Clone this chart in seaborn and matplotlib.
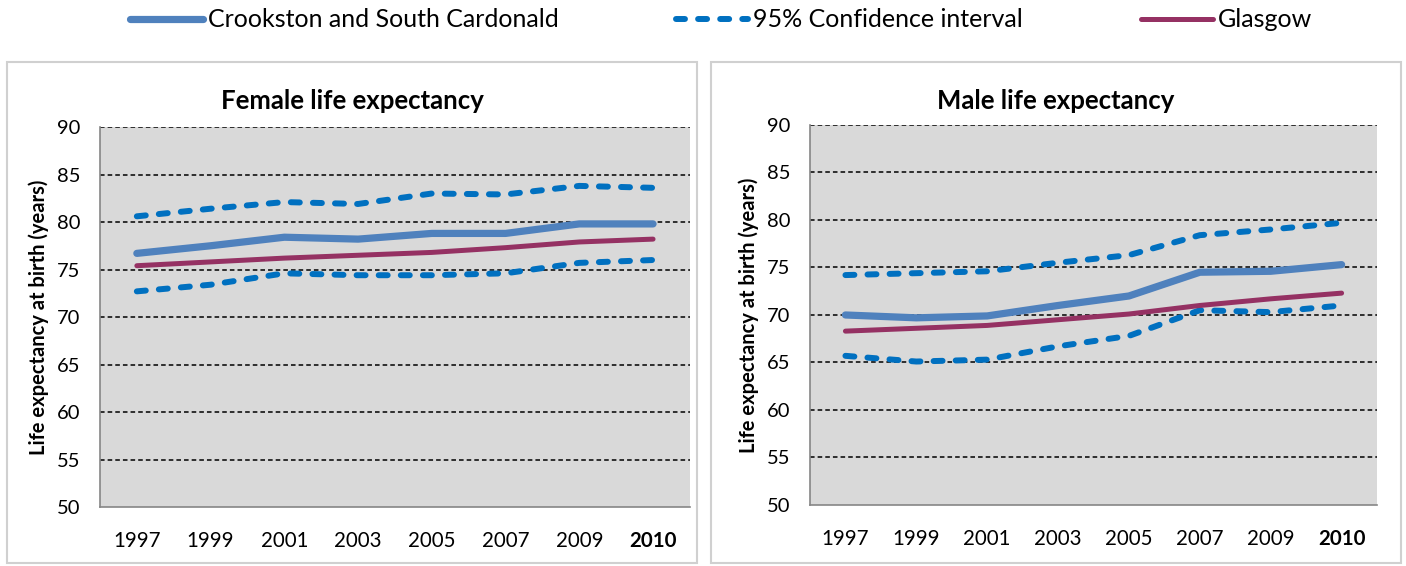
import matplotlib
matplotlib.use("Agg")
import matplotlib.pyplot as plt
import seaborn as sns
import pandas as pd
from matplotlib.patches import Rectangle
from matplotlib.lines import Line2D

years = ["1997", "1999", "2001", "2003", "2005", "2007", "2009", "2010"]

# female
female_area = [76.7, 77.5, 78.4, 78.2, 78.8, 78.8, 79.8, 79.8]
female_upper = [80.6, 81.4, 82.1, 81.9, 83.0, 82.9, 83.8, 83.6]
female_lower = [72.7, 73.4, 74.6, 74.4, 74.4, 74.6, 75.7, 76.0]
female_glasgow = [75.4, 75.8, 76.2, 76.5, 76.8, 77.3, 77.9, 78.2]

# male
male_area = [70.0, 69.7, 69.9, 71.0, 72.0, 74.5, 74.6, 75.3]
male_upper = [74.2, 74.4, 74.6, 75.5, 76.3, 78.4, 79.0, 79.7]
male_lower = [65.7, 65.1, 65.3, 66.7, 67.8, 70.5, 70.3, 71.0]
male_glasgow = [68.3, 68.6, 68.9, 69.5, 70.1, 71.0, 71.7, 72.3]

area_color = "#4F81BD"
ci_color = "#0070C0"
glasgow_color = "#953163"

area_lw = 5.2
ci_lw = 4.3
glasgow_lw = 3.6
ci_dash = (0, (1.5, 2.2))

sns.set_style("white")
plt.rcParams["font.family"] = ["Lato", "DejaVu Sans"]
plt.rcParams["text.color"] = "black"
plt.rcParams["xtick.color"] = "black"
plt.rcParams["ytick.color"] = "black"
plt.rcParams["axes.labelcolor"] = "black"

fig = plt.figure(figsize=(14.06, 5.66), dpi=100)

# panel frames
for x0 in [0.005, 0.5057]:
    fig.patches.append(Rectangle((x0, 0.006), 0.4908, 0.884, transform=fig.transFigure,
                                 facecolor="none", edgecolor="#D0D0D0", linewidth=1.5, zorder=-1))

ax1 = fig.add_axes([0.0711, 0.1042, 0.4196, 0.6714])
ax2 = fig.add_axes([0.5761, 0.1078, 0.4033, 0.6714])


def draw_panel(ax, area, upper, lower, glasgow, title, title_x):
    df = pd.DataFrame({"pos": range(len(years)), "area": area, "upper": upper,
                       "lower": lower, "glasgow": glasgow})
    ax.set_facecolor("#D9D9D9")
    for v in range(55, 95, 5):
        ax.axhline(v, color="black", linestyle=(0, (3, 2)), linewidth=1.1, zorder=1)
    sns.lineplot(data=df, x="pos", y="glasgow", ax=ax, color=glasgow_color, linewidth=glasgow_lw,
                 zorder=3, solid_capstyle="round")
    sns.lineplot(data=df, x="pos", y="area", ax=ax, color=area_color, linewidth=area_lw, zorder=4,
                 solid_capstyle="round")
    for col in ["upper", "lower"]:
        sns.lineplot(data=df, x="pos", y=col, ax=ax, color=ci_color, linewidth=ci_lw, zorder=2,
                     linestyle=ci_dash, dash_capstyle="round")
    ax.set_xlim(-0.5, len(years) - 0.5)
    ax.set_ylim(50, 90)
    ax.set_yticks(range(50, 95, 5))
    # category boundaries as major ticks, labels at centers
    ax.set_xticks([i - 0.5 for i in range(len(years) + 1)])
    ax.set_xticklabels([])
    ax.set_xticks(range(len(years)), minor=True)
    ax.set_xticklabels(years, minor=True)
    ax.tick_params(axis="x", which="major", length=5, color="#868686", width=1.2, direction="out")
    ax.tick_params(axis="x", which="minor", length=0, pad=17, labelsize=14.8)
    ax.tick_params(axis="y", length=8, color="#868686", width=1.2, labelsize=14.5, pad=6, direction="out")
    ax.get_xticklabels(minor=True)[-1].set_fontweight("bold")
    for s in ["top", "right"]:
        ax.spines[s].set_visible(False)
    for s in ["left", "bottom"]:
        ax.spines[s].set_color("#868686")
        ax.spines[s].set_linewidth(1.2)
    ax.set_xlabel("")
    ax.set_ylabel("Life expectancy at birth (years)", fontsize=14.5, fontweight="bold", labelpad=6)
    fig.text(title_x, 0.822, title, ha="center", va="center", fontsize=18.5, fontweight="bold")


draw_panel(ax1, female_area, female_upper, female_lower, female_glasgow,
           "Female life expectancy", 0.2504)
draw_panel(ax2, male_area, male_upper, male_lower, male_glasgow,
           "Male life expectancy", 0.7511)

handles = [
    Line2D([], [], color=area_color, linewidth=area_lw, solid_capstyle="round"),
    Line2D([], [], color=ci_color, linewidth=ci_lw, linestyle=ci_dash, dash_capstyle="round"),
    Line2D([], [], color=glasgow_color, linewidth=glasgow_lw, solid_capstyle="round"),
]
labels = ["Crookston and South Cardonald", "95% Confidence interval", "Glasgow"]
fig.legend(handles, labels, loc="center", bbox_to_anchor=(0.513, 0.965), ncol=3, frameon=False,
           fontsize=18, handlelength=2.9, handletextpad=0.2, columnspacing=4.7)

fig.savefig("out.png", dpi=100)
